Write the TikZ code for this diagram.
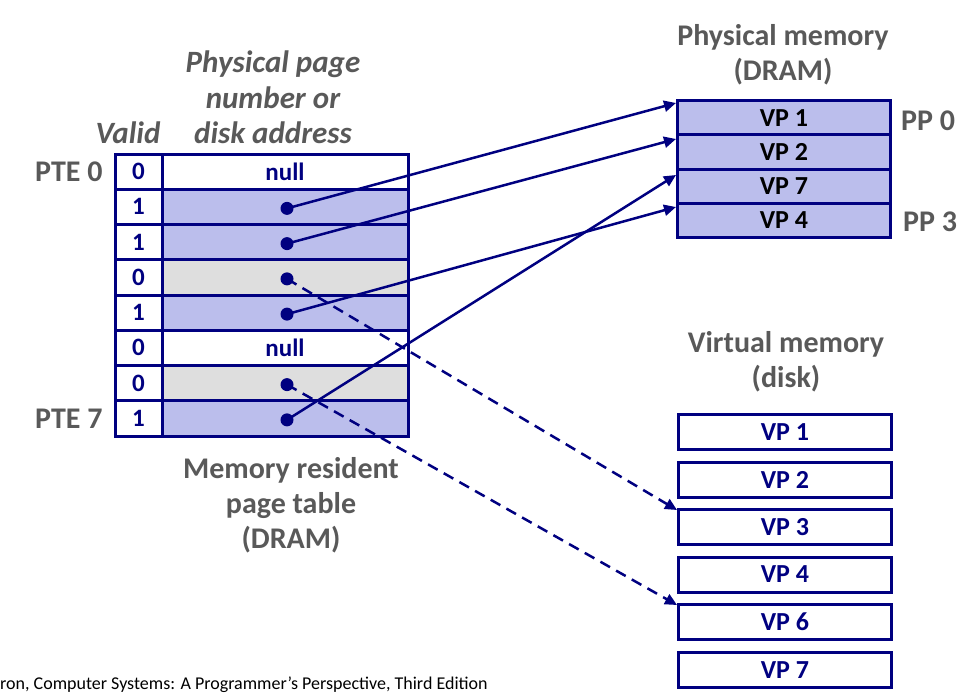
\documentclass[tikz,border=0pt]{standalone}
\usepackage{fontspec}
\setmainfont{Carlito}
\usetikzlibrary{arrows.meta}
\definecolor{navy}{RGB}{0,0,128}
\definecolor{lav}{RGB}{187,190,236}
\definecolor{cellgray}{RGB}{222,222,222}
\definecolor{labelgray}{RGB}{89,89,89}
\tikzset{
  cell/.style={draw=navy, line width=3pt, rectangle, anchor=north west, inner sep=0pt, outer sep=0pt,
    minimum height=35.25pt, text=navy, font=\fontsize{25}{28}\selectfont\bfseries},
  vcell/.style={cell, minimum width=47pt},
  acell/.style={cell, minimum width=246pt},
  pmbox/.style={draw=navy, line width=3pt, fill=lav, rectangle, anchor=north west, inner sep=0pt,
    minimum width=213pt, minimum height=34.25pt, font=\fontsize{26}{28}\selectfont\bfseries},
  vmbox/.style={draw=navy, line width=3pt, rectangle, anchor=north west, inner sep=0pt,
    minimum width=213pt, minimum height=35pt, text=navy, font=\fontsize{26}{28}\selectfont\bfseries},
  dot/.style={circle, fill=navy, inner sep=0pt, minimum size=13pt},
  glabel/.style={text=labelgray, font=\fontsize{30}{35}\selectfont\bfseries, align=center},
  ilabel/.style={glabel, font=\fontsize{31}{35.5}\selectfont\bfseries\itshape},
  conn/.style={draw=navy, line width=2.5pt, -{Triangle[length=12pt,width=11pt]}},
  dconn/.style={conn, dash pattern=on 11pt off 7pt},
}
\begin{document}
\begin{tikzpicture}[x=1pt,y=-1pt]
\useasboundingbox (0,0) rectangle (974,697);

% page table: valid bit column and address column
\foreach \i/\v/\f in {0/0/white,1/1/lav,2/1/lav,3/0/cellgray,4/1/lav,5/0/white,6/0/cellgray,7/1/lav}{
  \node[vcell] (v\i) at (115,{154+35.25*\i}) {\v};
  \node[acell, fill=\f] (a\i) at (162,{154+35.25*\i}) {};
}
\node[text=navy, font=\fontsize{25}{28}\selectfont\bfseries] (n0) at (a0.center) {null};
\node[text=navy, font=\fontsize{25}{28}\selectfont\bfseries] (n5) at (a5.center) {null};

% pointers held in the table
\foreach \i in {1,2,3,4,6,7}{
  \node[dot] (d\i) at ([shift={(2,1.5)}]a\i.center) {};
}

% table labels
\node[ilabel] (hdr) at (273,97.5) {Physical page\\number or\\disk address};
\node[ilabel] (valid) at (128,133) {Valid};
\node[glabel, anchor=east] (pte0) at (106,172) {PTE 0};
\node[glabel, anchor=east] (pte7) at (106,419) {PTE 7};
\node[glabel] (ptcap) at (291,505) {Memory resident\\page table\\(DRAM)};

% physical memory
\node[glabel] (pmcap) at (783,55) {Physical memory\\(DRAM)};
\foreach \i/\t in {0/VP 1,1/VP 2,2/VP 7,3/VP 4}{
  \node[pmbox] (p\i) at (676,{99+34.25*\i}) {\t};
}
\node[glabel] (pp0) at (928,121) {PP 0};
\node[glabel] (pp3) at (930,222) {PP 3};

% virtual memory on disk
\node[glabel] (vmcap) at (786,362) {Virtual memory\\(disk)};
\foreach \i/\t/\y in {1/VP 1/413,2/VP 2/460.5,3/VP 3/508,4/VP 4/555.5,6/VP 6/603,7/VP 7/651}{
  \node[vmbox] (m\i) at (677,\y) {\t};
}

% arrow tips at the left edges of the target pages
\coordinate (t1) at (676,103);
\coordinate (t2) at (676,139);
\coordinate (t7) at (676,175);
\coordinate (t4) at (676,207);
\coordinate (s3) at (677,510);
\coordinate (s6) at (677,605);

\draw[conn] (d1.center) -- (t1);
\draw[conn] (d2.center) -- (t2);
\draw[conn] (d4.center) -- (t4);
\draw[conn] (d7.center) -- (t7);
\draw[dconn] (d3.center) -- (s3);
\draw[dconn] (d6.center) -- (s6);

% source line
\node[anchor=west, inner sep=0pt, font=\fontsize{18}{21}\selectfont] (src) at (0,685)
  {ron, Computer Systems: A Programmer’s Perspective, Third Edition};
\end{tikzpicture}
\end{document}
